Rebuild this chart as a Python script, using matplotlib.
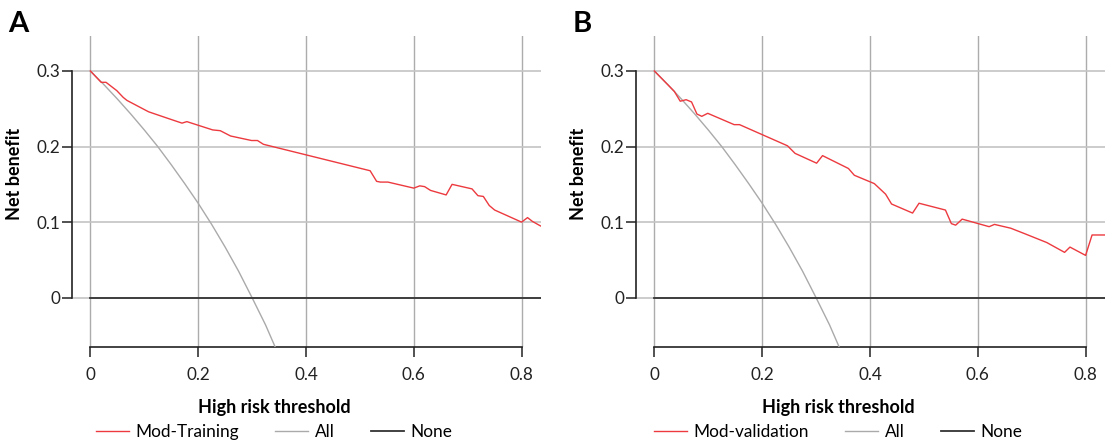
import matplotlib
matplotlib.use("Agg")
import matplotlib.pyplot as plt

plt.rcParams["font.family"] = ["Lato", "DejaVu Sans"]

# ── Decision curve data (threshold probability vs net benefit) ────────────────

train_pt = [0.000, 0.020, 0.029, 0.049, 0.061, 0.068, 0.108, 0.145, 0.170, 0.179,
            0.227, 0.241, 0.260, 0.299, 0.310, 0.321, 0.519, 0.531, 0.538, 0.552,
            0.600, 0.611, 0.620, 0.631, 0.660, 0.671, 0.708, 0.719, 0.729, 0.740,
            0.750, 0.800, 0.811, 0.820, 0.835]
train_nb = [0.300, 0.285, 0.285, 0.274, 0.265, 0.261, 0.246, 0.237, 0.231, 0.233,
            0.222, 0.221, 0.214, 0.208, 0.208, 0.203, 0.168, 0.154, 0.153, 0.153,
            0.145, 0.148, 0.147, 0.142, 0.136, 0.150, 0.144, 0.135, 0.134, 0.122,
            0.116, 0.100, 0.106, 0.101, 0.095]

valid_pt = [0.000, 0.037, 0.048, 0.059, 0.069, 0.079, 0.088, 0.099, 0.148, 0.158,
            0.247, 0.261, 0.301, 0.312, 0.360, 0.371, 0.408, 0.429, 0.440, 0.479,
            0.491, 0.540, 0.551, 0.559, 0.571, 0.621, 0.631, 0.661, 0.686, 0.728,
            0.761, 0.771, 0.800, 0.812, 0.836]
valid_nb = [0.300, 0.273, 0.260, 0.262, 0.259, 0.243, 0.240, 0.244, 0.229, 0.229,
            0.201, 0.191, 0.178, 0.188, 0.171, 0.162, 0.151, 0.137, 0.124, 0.112,
            0.125, 0.116, 0.098, 0.096, 0.104, 0.094, 0.097, 0.092, 0.085, 0.073,
            0.060, 0.067, 0.056, 0.083, 0.083]

# treat-all curve, same prevalence in both cohorts
all_pt = [0.000, 0.025, 0.050, 0.075, 0.100, 0.125, 0.150, 0.175, 0.200,
          0.225, 0.250, 0.275, 0.300, 0.325, 0.350]
all_nb = [0.300, 0.282, 0.263, 0.243, 0.222, 0.200, 0.176, 0.151, 0.125,
          0.097, 0.067, 0.035, 0.000, -0.036, -0.077]

none_pt = [0.0, 0.84]
none_nb = [0.0, 0.0]

x_ticks = [0, 0.2, 0.4, 0.6, 0.8]
x_labels = ["0", "0.2", "0.4", "0.6", "0.8"]
y_ticks = [0, 0.1, 0.2, 0.3]
y_labels = ["0", "0.1", "0.2", "0.3"]

RED = "#ec3a3f"
GRAY = "#aaaaaa"
DARK = "#333333"

panels = [
    ("A", "Mod-Training", train_pt, train_nb, 0.0652),
    ("B", "Mod-validation", valid_pt, valid_nb, 0.5756),
]

fig = plt.figure(figsize=(11.05, 4.46), dpi=100)

for letter, model_name, pt, nb, left in panels:
    ax = fig.add_axes([left, 0.222, 0.4244, 0.6973])

    ax.plot(pt, nb, color=RED, lw=1.0, label=model_name, zorder=4)
    ax.plot(all_pt, all_nb, color=GRAY, lw=1.0, label="All", zorder=3)
    ax.plot(none_pt, none_nb, color=DARK, lw=1.3, label="None", zorder=3)

    ax.set_xlim(-0.034, 0.836)
    ax.set_ylim(-0.0652, 0.3463)

    ax.set_xticks(x_ticks)
    ax.set_xticklabels(x_labels)
    ax.set_yticks(y_ticks)
    ax.set_yticklabels(y_labels)
    ax.tick_params(axis="x", length=7.2, width=1.1, pad=7, labelsize=12.3,
                   colors="#222222")
    ax.tick_params(axis="y", length=7, width=1.1, pad=1.5, labelsize=12.3,
                   colors="#222222")

    # grid: vertical lines a bit darker than the horizontal ones
    ax.xaxis.grid(True, color="#acacac", lw=1.0)
    ax.yaxis.grid(True, color="#c4c4c4", lw=1.2)
    ax.set_axisbelow(True)

    for side in ("top", "right"):
        ax.spines[side].set_visible(False)
    ax.spines["left"].set_bounds(0, 0.3)
    ax.spines["bottom"].set_bounds(0, 0.8)
    for side in ("left", "bottom"):
        ax.spines[side].set_color("#222222")
        ax.spines[side].set_linewidth(1.2)

    ax.set_xlabel("High risk threshold", fontsize=13, fontweight="bold")
    ax.xaxis.set_label_coords(0.431, -0.166)
    ax.set_ylabel("Net benefit", fontsize=13, fontweight="bold")
    ax.yaxis.set_label_coords(-0.104, 0.556)

    ax.legend(loc="center", bbox_to_anchor=(0.431, -0.272), ncol=3,
              frameon=False, fontsize=12.4, handlelength=1.9,
              handletextpad=0.4, columnspacing=2.1, borderpad=0,
              borderaxespad=0)

    ax.text(-0.136, 1.013, letter, transform=ax.transAxes, fontsize=21,
            fontweight="bold", va="baseline", ha="left")

fig.savefig("out.png", dpi=100)
